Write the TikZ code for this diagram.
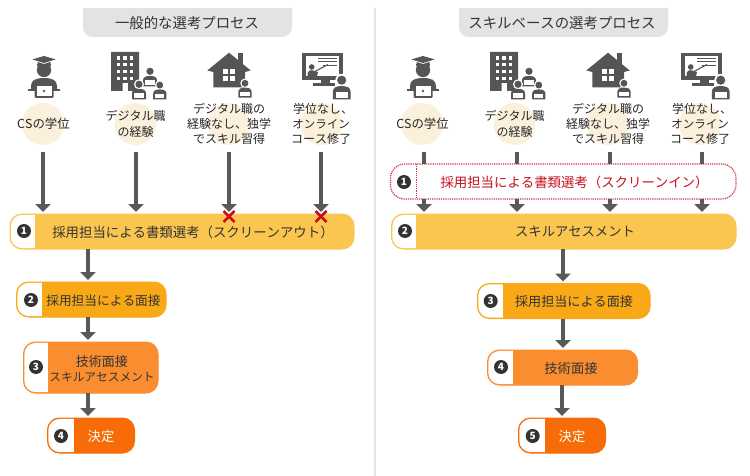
\documentclass[tikz,border=0pt]{standalone}
\usepackage{fontspec}
\setmainfont[Kerning=Off]{Noto Sans CJK JP}
\usetikzlibrary{arrows.meta}
\definecolor{ink}{HTML}{333333}
\definecolor{icon}{HTML}{555555}
\definecolor{arrowc}{HTML}{595959}
\definecolor{cone}{HTML}{FBC650}
\definecolor{ctwo}{HTML}{F9A917}
\definecolor{cthree}{HTML}{F98D2F}
\definecolor{cfour}{HTML}{F76C06}
\definecolor{halo}{HTML}{FBF0DC}
\definecolor{titlebg}{HTML}{E3E3E3}
\definecolor{redc}{HTML}{C80F1E}
\newcommand{\fs}[1]{\fontsize{#1}{#1}\selectfont}
\tikzset{
  x=1pt,y=-1pt,
  flow/.style={draw=arrowc,line width=4pt,-{Triangle[width=15pt,length=8pt]},shorten >=2pt},
  stub/.style={draw=arrowc,line width=4pt},
  shell/.style={rectangle,rounded corners=12pt,inner sep=0,outer sep=0,line width=1pt},
  steptext/.style={text=ink,font=\fs{13.3},inner sep=0,align=center,yshift=-1pt},
  numdot/.style={circle,fill=ink,text=white,inner sep=0,minimum size=14pt,font=\fs{10}\bfseries},
  lab/.style={text=black!85,font=\fs{12},inner sep=0,align=center},
  halodot/.style={circle,fill=halo,inner sep=0,minimum size=42pt},
  titlet/.style={text=ink,font=\fs{14.4},inner sep=0,yshift=-0.7pt},
  cross/.style={draw=redc,line width=2.8pt},
}
% name, x1, y1, x2, y2, xwhite, colour
\newcommand{\stepbox}[7]{%
  \node[shell,fill=#7,draw=#7,minimum width={(#4-#2)*1pt},minimum height={(#5-#3)*1pt}] (#1) at ({(#2+#4)/2},{(#3+#5)/2}) {};
  \begin{scope}
    \clip[rounded corners=11.5pt] (#2+0.8,#3+0.8) rectangle (#4-0.8,#5-0.8);
    \fill[white] (#2,#3) rectangle (#6,#5);
  \end{scope}
}
% person: base centre x,y, scale
\newcommand{\person}[3]{%
  \begin{scope}[shift={(#1,#2)},scale=#3]
    \fill[white] (-8.6,1.2) -- (-8.6,-9) arc[start angle=180,end angle=0,radius=8.6] -- (8.6,1.2) -- cycle;
    \fill[white] (0,-15.2) circle (5);
    \fill[icon] (0,-15.2) circle (3.6);
    \fill[icon] (-7,0) -- (-7,-6) .. controls (-7,-9.5) and (-4,-10.6) .. (0,-10.6) .. controls (4,-10.6) and (7,-9.5) .. (7,-6) -- (7,0) -- cycle;
    \fill[white] (-4.8,-6) rectangle (4.8,-1.4);
  \end{scope}
}
\newcommand{\iconset}[1]{%
  \begin{scope}[shift={(#1,0)}]
    % graduate
    \fill[icon] (44,70) circle (7.2);
    \fill[white] (34,56) rectangle (54,65);
    \fill[icon] (37.2,64.4) rectangle (50.8,66.4);
    \fill[icon] (32.3,59.4) -- (44,56) -- (55.7,59.4) -- (44,63) -- cycle;
    \fill[icon] (37.5,62) -- (44,64) -- (50.5,62) -- (50.5,64.8) -- (37.5,64.8) -- cycle;
    \fill[icon] (31,91) -- (31,86) .. controls (31,80) and (36,78) .. (44,78) .. controls (52,78) and (57,80) .. (57,86) -- (57,91) -- cycle;
    \fill[icon] (28,88.6) rectangle (60,90.6);
    \fill[icon,rounded corners=1pt] (34.5,84.5) rectangle (53.5,98);
    \fill[white] (36.5,86.5) rectangle (51.5,96);
    \fill[icon] (44,91) circle (1.3);
    % building
    \fill[icon] (111,52) -- (139,52) -- (139,91) -- (128,91) -- (128,83) -- (122.5,83) -- (122.5,91) -- (111,91) -- cycle;
    \foreach \yy in {56.5,63.2,70,76.7}{\foreach \xx in {116.5,123.2,130}{
      \fill[white] (\xx,\yy) rectangle (\xx+3.3,\yy+3.3);}}
    \person{150}{86.5}{1}
    \person{139}{99.5}{1}
    \person{159.8}{99.5}{0.95}
    % house
    \fill[icon] (237.7,53) rectangle (243.3,64);
    \fill[icon] (207.3,70.5) -- (229,52.7) -- (250.7,70.5) -- (245,72) -- (245,87.5) -- (213.3,87.5) -- (213.3,72) -- cycle;
    \foreach \yy in {69.3,76.3}{\foreach \xx in {223,230}{
      \fill[white] (\xx,\yy) rectangle (\xx+5.2,\yy+5.2);}}
    \person{245}{97.7}{0.95}
    % screen
    \fill[icon] (302,53) rectangle (343,80);
    \fill[white] (305.8,56.3) rectangle (339.4,76.4);
    \fill[icon] (320.5,80) rectangle (330,84);
    \fill[icon] (313,83.5) rectangle (335,86);
    \fill[icon] (318,58) rectangle (337,59.3);
    \fill[icon] (318,61.2) rectangle (337,62.5);
    \fill[icon] (323,64.8) rectangle (337,66);
    \draw[icon,line width=1.1pt] (314,72) -- (328,64.5);
    \fill[icon] (311.7,67) circle (2.8);
    \fill[icon] (307.7,76.4) -- (307.7,73) .. controls (307.7,70.5) and (310,70.2) .. (312,70.2) -- (318,72) -- (317,76.4) -- cycle;
    \person{341.7}{99.5}{1.27}
  \end{scope}
}
\newcommand{\lastlabel}{\hspace*{4pt}学位なし、\\[3.3pt]{\fs{11.5}オンライン}\\[3.3pt]コース修了}
\begin{document}
\begin{tikzpicture}
\path[use as bounding box,fill=white] (0,0) rectangle (750,476);
\coordinate (divtop) at (375,8);
\coordinate (divbot) at (375,476);
\draw[titlebg!90!white,line width=1.3pt] (divtop) -- (divbot);

% titles
\fill[titlebg,rounded corners=10pt] (83,-4) rectangle (292,37);
\fill[white] (83,-4) rectangle (292,8);
\fill[titlebg,rounded corners=10pt] (459,-4) rectangle (668,37);
\fill[white] (459,-4) rectangle (668,8);
\node[titlet] (t1) at (187,22) {一般的な選考プロセス};
\node[titlet] (t2) at (562,22) {スキルベースの選考プロセス};

% halos
\foreach \xx/\nm in {43/a,135.5/b,229/c,321/d,422/e,514.5/f,608/g,700/h}{
  \node[halodot] (halo\nm) at (\xx,124) {};
}
\iconset{0}
\iconset{379}

% labels
\node[lab,font=\fs{12.4}] (la) at (43.5,124) {CSの学位};
\node[lab] (lb) at (135.5,124) {デジタル職\\[3.3pt]の経験};
\node[lab] (lc) at (229,124) {デジタル職の\\[3.3pt]経験なし、独学\\[3.3pt]でスキル習得};
\node[lab] (ld) at (321,124) {\lastlabel};
\node[lab,font=\fs{12.4}] (le) at (422.5,124) {CSの学位};
\node[lab] (lf) at (514.5,124) {デジタル職\\[3.3pt]の経験};
\node[lab] (lg) at (608,124) {デジタル職の\\[3.3pt]経験なし、独学\\[3.3pt]でスキル習得};
\node[lab] (lh) at (700,124) {\lastlabel};

% left boxes
\stepbox{bA}{10}{214}{354}{249}{35}{cone}
\stepbox{bB}{16.5}{282}{166}{317}{42}{ctwo}
\stepbox{bC}{23.5}{342}{158}{393}{48}{cthree}
\stepbox{bD}{47.5}{418}{134.5}{453}{73.5}{cfour}
% right boxes
\stepbox{bF}{391.5}{214}{736}{249}{416}{cone}
\stepbox{bG}{477.5}{283.5}{650}{318.5}{503}{ctwo}
\stepbox{bH}{487.5}{350}{637.5}{385}{513}{cthree}
\stepbox{bI}{518.5}{418}{605.5}{453}{544.5}{cfour}
% dotted screening box
\node[rectangle,rounded corners=14pt,draw=redc!85,densely dotted,line width=1.2pt,fill=white,inner sep=0,outer sep=0,minimum width=345.5pt,minimum height=35pt] (bE) at (563.2,181.5) {};
\coordinate (dvt) at (416.7,164);
\coordinate (dvb) at (416.7,199);
\draw[redc!85,densely dotted,line width=1.2pt] (dvt) -- (dvb);

% box texts
\node[steptext,font=\fs{13.4}] (tA) at (193,231) {採用担当による書類選考（スクリーンアウト）};
\node[steptext,font=\fs{12.7}] (tB) at (103.5,300) {採用担当による面接};
\node[steptext,font=\fs{11.7}] (tC) at (102,367.5) {{\fs{13}技術面接}\\[3pt]スキルアセスメント};
\node[steptext,text=white] (tD) at (101,435.5) {決定};
\node[steptext,font=\fs{13.4},text=redc] (tE) at (574.5,181.5) {採用担当による書類選考（スクリーンイン）};
\node[steptext] (tF) at (575,231) {スキルアセスメント};
\node[steptext,font=\fs{13.1}] (tG) at (574,301) {採用担当による面接};
\node[steptext] (tH) at (571,367) {技術面接};
\node[steptext,text=white] (tI) at (572,435.5) {決定};

% numbers
\node[numdot] (nA) at (24,231) {1};
\node[numdot] (nB) at (31,300) {2};
\node[numdot] (nC) at (36,367) {3};
\node[numdot] (nD) at (61,436) {4};
\node[numdot] (nE) at (404,182) {1};
\node[numdot] (nF) at (405,231) {2};
\node[numdot] (nG) at (490.7,301) {3};
\node[numdot] (nH) at (501,367) {4};
\node[numdot] (nI) at (532.7,436) {5};

% left top connectors
\foreach \xx/\nm in {43/p,136/q,229/r,321/s}{
  \coordinate (\nm) at (\xx,152);
  \draw[flow] (\nm) -- (\nm |- bA.north);
}
% left vertical connectors
\coordinate (lx) at (88,0);
\draw[flow] (lx |- bA.south) -- (lx |- bB.north);
\draw[flow] (lx |- bB.south) -- (lx |- bC.north);
\draw[flow] (lx |- bC.south) -- (lx |- bD.north);

% red crosses
\foreach \xx/\nm in {229/r,321/s}{
  \coordinate (xc\nm) at (\xx,216.5);
  \draw[cross] ([shift={(-5.5,-5.5)}]xc\nm) -- ([shift={(5.5,5.5)}]xc\nm);
  \draw[cross] ([shift={(-5.5,5.5)}]xc\nm) -- ([shift={(5.5,-5.5)}]xc\nm);
}

% right top connectors
\foreach \xx/\nm in {424/u,517/v,610/w,702/z}{
  \coordinate (\nm) at (\xx,152);
  \draw[stub] (\nm) -- (\nm |- bE.north);
  \draw[flow] (\nm |- bE.south) -- (\nm |- bF.north);
}
% right vertical connectors
\coordinate (rx) at (563,0);
\coordinate (ry) at (562,0);
\draw[flow] (rx |- bF.south) -- (rx |- bG.north);
\draw[flow] (rx |- bG.south) -- (rx |- bH.north);
\draw[flow] (ry |- bH.south) -- (ry |- bI.north);
\end{tikzpicture}
\end{document}
